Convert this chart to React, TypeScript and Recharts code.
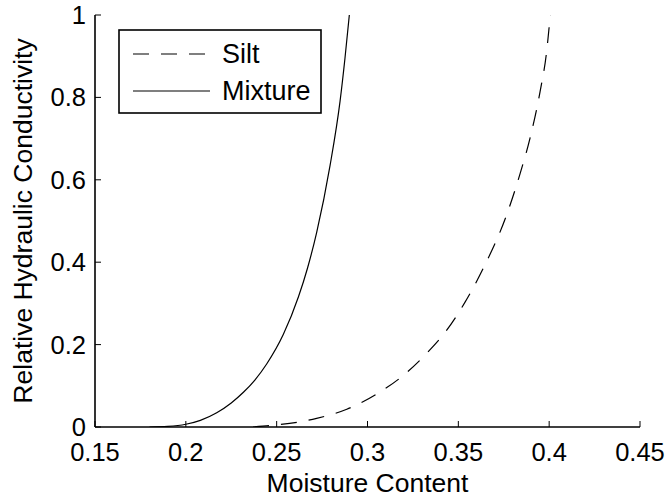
import React from 'react';
import { LineChart, Line, XAxis, YAxis, Legend } from 'recharts';

// ---- data ----
const xTicks = [0.15, 0.2, 0.25, 0.3, 0.35, 0.4, 0.45];
const yTicks = [0, 0.2, 0.4, 0.6, 0.8, 1];

const siltTheta = [0.237, 0.25, 0.262, 0.272, 0.2886, 0.305, 0.3188, 0.3326, 0.3436, 0.3537, 0.3637, 0.3766, 0.384, 0.3894, 0.395, 0.3986, 0.4006];
const siltK = [0, 0.005, 0.012, 0.021, 0.043, 0.08, 0.122, 0.179, 0.235, 0.303, 0.385, 0.515, 0.615, 0.70, 0.814, 0.911, 1.0];

const mixTheta = [0.18, 0.19, 0.2, 0.208, 0.217, 0.225, 0.2317, 0.238, 0.2445, 0.2537, 0.262, 0.267, 0.272, 0.2794, 0.2849, 0.2876, 0.29];
const mixK = [0, 0.0015, 0.0067, 0.0162, 0.0347, 0.0584, 0.0843, 0.114, 0.153, 0.225, 0.316, 0.386, 0.472, 0.635, 0.791, 0.895, 1.0];

const seriesNames = ['Silt', 'Mixture'];
const xTitle = 'Moisture Content';
const yTitle = 'Relative Hydraulic Conductivity';

const siltData = siltTheta.map((x, i) => ({ x, k: siltK[i] }));
const mixData = mixTheta.map((x, i) => ({ x, k: mixK[i] }));

const FONT = '"Liberation Sans", Arial, Helvetica, sans-serif';
const FS = 25.5;
const TITLE_FS = 26.5;
const LEG_FS = 27;
const TICK = 6;
const AXW = 1.6;

const fmt = (v: number) => String(v);

const BottomTick = (p: any) => (
  <g>
    <line x1={p.x} x2={p.x} y1={p.y} y2={p.y - TICK} stroke="#000" strokeWidth={1} />
    <text x={p.x} y={p.y + 34} textAnchor="middle" fontSize={FS} fontFamily={FONT} fill="#000">
      {fmt(p.payload.value)}
    </text>
  </g>
);

const TopTick = (p: any) => (
  <line x1={p.x} x2={p.x} y1={p.y} y2={p.y + TICK} stroke="#000" strokeWidth={1} />
);

const LeftTick = (p: any) => (
  <g>
    <line x1={p.x} x2={p.x + TICK} y1={p.y} y2={p.y} stroke="#000" strokeWidth={1} />
    <text x={p.x - 9} y={p.y + 9} textAnchor="end" fontSize={FS} fontFamily={FONT} fill="#000">
      {fmt(p.payload.value)}
    </text>
  </g>
);

const RightTick = (p: any) => (
  <line x1={p.x} x2={p.x - TICK} y1={p.y} y2={p.y} stroke="#000" strokeWidth={1} />
);

const XLabel = (p: any) => {
  const vb = p.viewBox || {};
  return (
    <text x={vb.x + vb.width / 2} y={vb.y + 65} textAnchor="middle" fontSize={TITLE_FS} fontFamily={FONT} fill="#000">
      {xTitle}
    </text>
  );
};

const YLabel = (p: any) => {
  const vb = p.viewBox || {};
  const cx = vb.x + 32;
  const cy = vb.y + vb.height / 2;
  return (
    <text x={cx} y={cy} transform={`rotate(-90, ${cx}, ${cy})`} textAnchor="middle" fontSize={TITLE_FS} fontFamily={FONT} fill="#000">
      {yTitle}
    </text>
  );
};

const LegendBox = (props: any) => {
  const payload: any[] = props.payload || [];
  const items = seriesNames.map((name, i) => {
    const entry = payload.find((e) => e.value === name);
    const dash = entry?.payload?.strokeDasharray ?? (i === 0 ? '16 12' : undefined);
    return { name, dash };
  });
  return (
    <svg width={204} height={85} style={{ display: 'block' }}>
      <rect x={1} y={1} width={202} height={83} fill="#fff" stroke="#000" strokeWidth={1.6} />
      {items.map((it, i) => (
        <g key={it.name}>
          <line x1={15} x2={92} y1={25 + i * 37} y2={25 + i * 37} stroke="#000" strokeWidth={1.2} strokeDasharray={it.dash} />
          <text x={104} y={34 + i * 37} fontSize={LEG_FS} fontFamily={FONT} fill="#000">
            {it.name}
          </text>
        </g>
      ))}
    </svg>
  );
};

export default function App() {
  return (
    <div style={{ position: 'absolute', left: 0, top: 0, background: '#fff' }}>
      <LineChart width={670} height={504} margin={{ top: 15, right: 30, bottom: 0, left: 0 }} style={{ background: '#fff' }}>
        <XAxis
          xAxisId="b"
          dataKey="x"
          type="number"
          domain={[0.15, 0.45]}
          ticks={xTicks}
          allowDataOverflow
          orientation="bottom"
          height={77}
          tickSize={0}
          tickMargin={0}
          tickLine={false}
          tick={BottomTick}
          axisLine={{ stroke: '#000', strokeWidth: AXW }}
          interval={0}
          label={XLabel}
        />
        <XAxis
          xAxisId="t"
          dataKey="x"
          type="number"
          domain={[0.15, 0.45]}
          ticks={xTicks}
          allowDataOverflow
          orientation="top"
          height={0}
          tickSize={0}
          tickMargin={0}
          tickLine={false}
          tick={TopTick}
          axisLine={{ stroke: '#000', strokeWidth: AXW }}
          interval={0}
        />
        <YAxis
          yAxisId="l"
          type="number"
          domain={[0, 1]}
          ticks={yTicks}
          allowDataOverflow
          orientation="left"
          width={95}
          tickSize={0}
          tickMargin={0}
          tickLine={false}
          tick={LeftTick}
          axisLine={{ stroke: '#000', strokeWidth: AXW }}
          interval={0}
          label={YLabel}
        />
        <YAxis
          yAxisId="r"
          type="number"
          domain={[0, 1]}
          ticks={yTicks}
          allowDataOverflow
          orientation="right"
          width={0}
          tickSize={0}
          tickMargin={0}
          tickLine={false}
          tick={RightTick}
          axisLine={{ stroke: '#000', strokeWidth: AXW }}
          interval={0}
        />
        <Legend
          layout="horizontal"
          verticalAlign="middle"
          align="center"
          wrapperStyle={{ position: 'absolute', left: 118, top: 29, width: 204, height: 85 }}
          content={LegendBox}
        />
        <Line
          xAxisId="b"
          yAxisId="l"
          data={siltData}
          dataKey="k"
          name={seriesNames[0]}
          type="monotone"
          stroke="#000"
          strokeWidth={1.2}
          strokeDasharray="16 12"
          dot={false}
          activeDot={false}
          isAnimationActive={false}
        />
        <Line
          xAxisId="b"
          yAxisId="l"
          data={mixData}
          dataKey="k"
          name={seriesNames[1]}
          type="monotone"
          stroke="#000"
          strokeWidth={1.2}
          dot={false}
          activeDot={false}
          isAnimationActive={false}
        />
      </LineChart>
    </div>
  );
}
